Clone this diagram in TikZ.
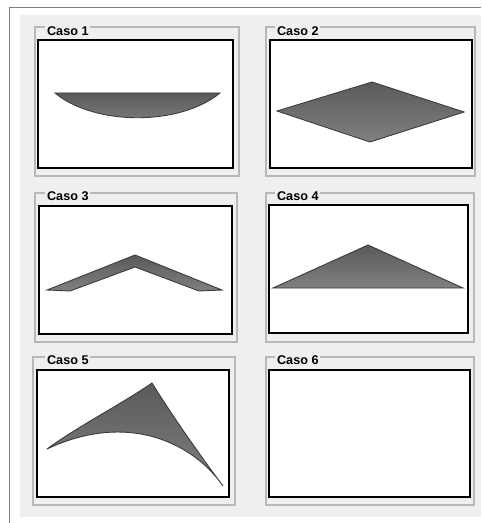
\documentclass[tikz,border=0pt]{standalone}
\usepackage{fontspec}
\setmainfont{Liberation Sans}

\definecolor{panel}{HTML}{EFEFEF}
\definecolor{frame}{HTML}{B8B8B8}
\definecolor{shapetop}{HTML}{5A5A5A}
\definecolor{shapebot}{HTML}{808080}
\definecolor{edge}{HTML}{3A3A3A}

\begin{document}
\begin{tikzpicture}[x=0.02cm, y=-0.02cm,
    group/.style={draw=frame, line width=0.6pt},
    plotbox/.style={draw=black, line width=1.1pt, fill=white},
    title/.style={anchor=west, fill=panel, inner sep=1pt,
        font=\fontsize{7.2}{8}\selectfont\bfseries},
    surf/.style={draw=edge, line width=0.5pt, top color=shapetop, bottom color=shapebot}]
    \useasboundingbox (0,0) rectangle (481,523);

    % Window and panel
    \fill[white] (0,0) rectangle (481,523);
    \fill[panel] (20,15) rectangle (481,517);
    \draw[gray, line width=0.5pt] (9.5,523) -- (9.5,7.5) -- (481,7.5);

    % Caso 1
    \draw[group] (35,27) rectangle (239,176);
    \draw[plotbox] (38,40) rectangle (233,168);
    \node[title] (t1) at (45,31) {Caso 1};
    \draw[surf] (55,93) -- (220,93) .. controls (180,126) and (95,126) .. cycle;

    % Caso 2
    \draw[group] (266,27) rectangle (475,176);
    \draw[plotbox] (270,40) rectangle (472,168);
    \node[title] (t2) at (275,31) {Caso 2};
    \draw[surf] (277,111) -- (372,82) -- (464,112) -- (370,142) -- cycle;

    % Caso 3
    \draw[group] (35,193) rectangle (237,342);
    \draw[plotbox] (39,206) rectangle (232,334);
    \node[title] (t3) at (45,196) {Caso 3};
    \draw[surf] (47,290) -- (135,255) -- (222,290) -- (199,291)
        -- (135,267) -- (70,291) -- cycle;

    % Caso 4
    \draw[group] (266,193) rectangle (474,342);
    \draw[plotbox] (269,205) rectangle (468,333);
    \node[title] (t4) at (275,196) {Caso 4};
    \draw[surf] (273,288) -- (368,245) -- (463,288) -- cycle;

    % Caso 5
    \draw[group] (33,357) rectangle (235,505);
    \draw[plotbox] (37,370) rectangle (229,497);
    \node[title] (t5) at (45,360) {Caso 5};
    \draw[surf] (47,449) .. controls (80,425) and (120,405) .. (152,383)
        .. controls (175,420) and (200,455) .. (223,486)
        .. controls (195,445) and (130,410) .. (47,449) -- cycle;

    % Caso 6
    \draw[group] (266,357) rectangle (474,505);
    \draw[plotbox] (269,370) rectangle (470,497);
    \node[title] (t6) at (275,360) {Caso 6};
\end{tikzpicture}
\end{document}
